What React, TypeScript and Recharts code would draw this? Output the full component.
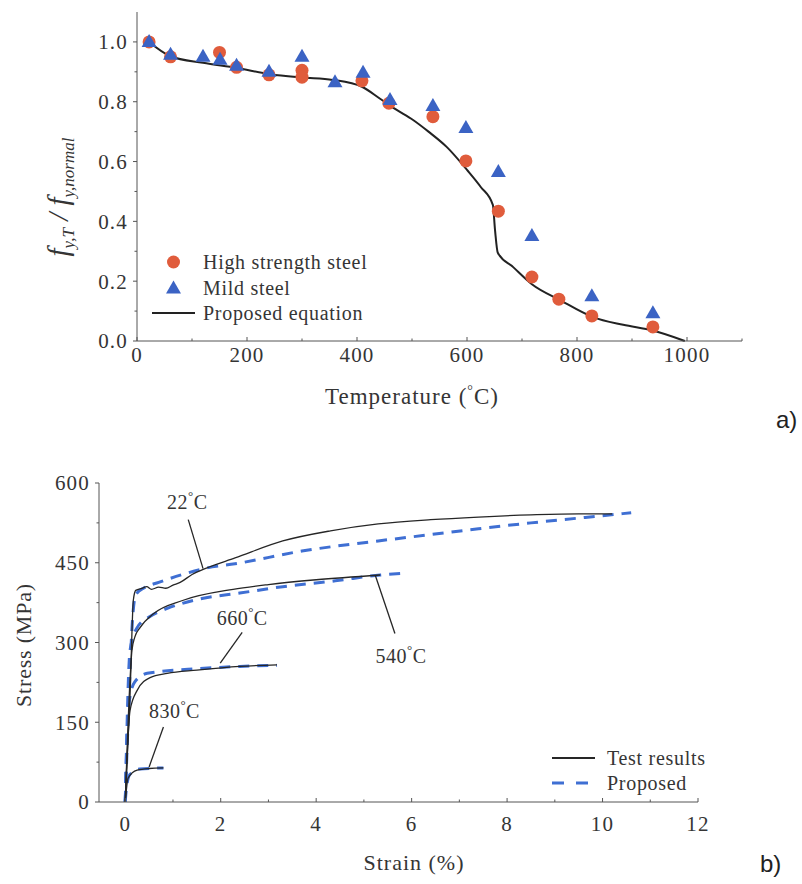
import React from "react";
import {
  ComposedChart,
  Line,
  Scatter,
  XAxis,
  YAxis,
  Legend,
  ReferenceLine,
  ReferenceDot,
} from "recharts";

const SERIF = '"Liberation Serif", "DejaVu Serif", serif';
const SANS = '"Liberation Sans", Arial, sans-serif';
const INK = "#353535";
const AXIS = "#555";
const ORANGE = "#e05c3c";
const BLUE = "#3b63c4";
const DASH_BLUE = "#3f6fd3";

// ---- panel a) : reduction factor vs temperature ----
const hsTemps = [22, 61, 150, 181, 240, 300, 300, 409, 458, 538, 598, 657, 718, 767, 827, 938];
const hsRatio = [1.0, 0.95, 0.965, 0.915, 0.89, 0.905, 0.882, 0.87, 0.795, 0.75, 0.602, 0.434, 0.214, 0.14, 0.084, 0.047];

const msTemps = [22, 61, 120, 151, 181, 240, 300, 360, 411, 460, 538, 598, 657, 718, 827, 938];
const msRatio = [1.0, 0.957, 0.95, 0.94, 0.92, 0.9, 0.95, 0.865, 0.897, 0.806, 0.786, 0.712, 0.565, 0.351, 0.15, 0.093];

const eqTemps = [22, 61, 120, 181, 242, 300, 356, 409, 442, 470, 502, 530, 563, 600, 625, 647, 651, 656, 684, 718, 769, 829, 884, 938, 996];
const eqRatio = [1.0, 0.952, 0.93, 0.913, 0.892, 0.881, 0.873, 0.85, 0.81, 0.775, 0.739, 0.7, 0.649, 0.572, 0.515, 0.455, 0.37, 0.295, 0.247, 0.19, 0.137, 0.08, 0.054, 0.035, 0.0];

const tempTicks = [0, 100, 200, 300, 400, 500, 600, 700, 800, 900, 1000, 1100];
const tempMajors = [0, 200, 400, 600, 800, 1000];
const ratioTicks = [0, 0.1, 0.2, 0.3, 0.4, 0.5, 0.6, 0.7, 0.8, 0.9, 1.0];
const ratioMajors = [0, 0.2, 0.4, 0.6, 0.8, 1.0];

// ---- panel b) : stress-strain curves, [strain %, stress MPa] ----
const test22 = [[0, 0], [0.1, 200], [0.17, 380], [0.22, 398], [0.35, 402], [0.45, 405], [0.55, 400], [0.7, 404], [0.85, 402], [1.0, 408], [1.15, 413], [1.4, 428], [1.7, 440], [2.3, 459], [3.3, 491], [4.3, 510], [5.3, 523], [6.4, 531], [7.4, 536], [8.5, 540], [9.5, 542], [10.2, 542]];
const prop22 = [[0, 0], [0.08, 200], [0.15, 340], [0.22, 390], [0.4, 403], [0.7, 413], [1.2, 428], [1.7, 440], [2.3, 448], [3.7, 472], [5.3, 491], [6.4, 503], [7.4, 514], [8.5, 525], [9.5, 534], [10.6, 544]];
const test540 = [[0, 0], [0.1, 230], [0.14, 285], [0.2, 310], [0.31, 328], [0.59, 354], [1.2, 379], [2.26, 400], [3.0, 409], [4.0, 418], [5.34, 427]];
const prop540 = [[0, 0], [0.1, 285], [0.25, 328], [0.5, 348], [0.88, 364], [1.57, 382], [2.4, 393], [3.3, 405], [4.4, 416], [5.34, 427], [5.8, 430]];
const test660 = [[0, 0], [0.1, 172], [0.25, 210], [0.52, 234], [0.88, 242], [1.5, 248], [2.4, 255], [3.18, 258]];
const prop660 = [[0, 0], [0.05, 150], [0.1, 198], [0.2, 226], [0.46, 242], [1.57, 251], [2.4, 255], [3.18, 257]];
const test830 = [[0, 0], [0.06, 45], [0.25, 60], [0.5, 63], [0.8, 64]];
const prop830 = [[0, 0], [0.03, 30], [0.1, 52], [0.3, 62], [0.8, 64]];

const strainTicks = [0, 1, 2, 3, 4, 5, 6, 7, 8, 9, 10, 11, 12];
const strainMajors = [0, 2, 4, 6, 8, 10, 12];
const stressTicks = [0, 75, 150, 225, 300, 375, 450, 525, 600];
const stressMajors = [0, 150, 300, 450, 600];

// curve labels: text anchor point and leader line, in [strain, stress]
const curveLabels = [
  { temp: "22", at: [1.3, 551], from: [1.32, 531], to: [1.63, 439] },
  { temp: "660", at: [2.45, 332], from: [2.45, 319], to: [1.99, 261] },
  { temp: "540", at: [5.78, 261], from: [5.24, 426], to: [5.65, 317] },
  { temp: "830", at: [1.03, 158], from: [0.8, 141], to: [0.5, 66] },
];

const zip = (xs: number[], ys: number[]) => xs.map((x, i) => ({ x, y: ys[i] }));
const pts = (arr: number[][]) => arr.map(([x, y]) => ({ x, y }));

const serifStyle = { fontFamily: SERIF };
const tickText = { fontSize: 21, letterSpacing: 1.2, fill: INK, style: serifStyle };

const xTick = (majors: number[], gap: number) => (p: any) => {
  const v = p.payload.value;
  const major = majors.includes(v);
  return (
    <g>
      <line x1={p.x} x2={p.x} y1={p.y} y2={p.y - (major ? 4 : 2.5)} stroke={AXIS} />
      {major && (
        <text x={p.x} y={p.y + gap} textAnchor="middle" {...tickText}>
          {v}
        </text>
      )}
    </g>
  );
};

const yTick = (majors: number[], fmt: (v: number) => string) => (p: any) => {
  const v = p.payload.value;
  const major = majors.includes(v);
  return (
    <g>
      <line x1={p.x} x2={p.x - (major ? 4 : 2.5)} y1={p.y} y2={p.y} stroke={AXIS} />
      {major && (
        <text x={p.x - 9} y={p.y} dy="0.35em" textAnchor="end" {...tickText}>
          {fmt(v)}
        </text>
      )}
    </g>
  );
};

const CircleMark = (p: any) => <circle cx={p.cx} cy={p.cy} r={6.5} fill={ORANGE} />;
const TriMark = (p: any) => (
  <polygon
    points={`${p.cx},${p.cy - 8} ${p.cx - 7.5},${p.cy + 5} ${p.cx + 7.5},${p.cy + 5}`}
    fill={BLUE}
  />
);

const legendText = { fontSize: 20, letterSpacing: 0.7, fill: INK, style: serifStyle };

function legendFor(order: string[], rowGap: number, mark: [number, number], textX: number) {
  return (props: any) => {
    const seen = new Set<string>();
    const items = [...(props.payload ?? [])]
      .filter((e: any) => {
        if (e.type === "none" || !order.includes(e.value) || seen.has(e.value)) return false;
        seen.add(e.value);
        return true;
      })
      .sort((a: any, b: any) => order.indexOf(a.value) - order.indexOf(b.value));
    return (
      <svg width={260} height={order.length * rowGap + 10} style={{ overflow: "visible" }}>
        {items.map((e: any, i: number) => {
          const cy = 14 + i * rowGap;
          const cx = (mark[0] + mark[1]) / 2;
          const dash = e.payload?.strokeDasharray;
          let m;
          if (e.type === "circle") m = <CircleMark cx={cx} cy={cy} />;
          else if (e.type === "triangle") m = <TriMark cx={cx} cy={cy + 1} />;
          else
            m = (
              <line
                x1={mark[0]} x2={mark[1]} y1={cy} y2={cy}
                stroke={e.color}
                strokeWidth={dash ? 3 : 1.8}
                strokeDasharray={dash ? "12 12" : undefined}
              />
            );
          return (
            <g key={e.value}>
              {m}
              <text x={textX} y={cy} dy="0.35em" {...legendText}>
                {e.value}
              </text>
            </g>
          );
        })}
      </svg>
    );
  };
}

const CurveLabel = (temp: string) => (p: any) => (
  <text x={p.cx} y={p.cy} textAnchor="middle" fontSize={20} fill={INK} letterSpacing={0.5} style={serifStyle}>
    {temp}
    <tspan dy={-9} fontSize={13}>°</tspan>
    <tspan dy={9}>C</tspan>
  </text>
);

function PanelA() {
  return (
    <ComposedChart width={802} height={420} margin={{ top: 12, right: 60, left: 77, bottom: 39 }}>
      <XAxis
        type="number" dataKey="x" domain={[0, 1100]} ticks={tempTicks} interval={0}
        tickSize={0} tickMargin={0} tickLine={false} stroke={AXIS}
        tick={xTick(tempMajors, 21)} height={40}
      />
      <YAxis
        type="number" dataKey="y" domain={[0, 1.1]} ticks={ratioTicks} interval={0}
        tickSize={0} tickMargin={0} tickLine={false} stroke={AXIS} width={60}
        tick={yTick(ratioMajors, (v) => v.toFixed(1))}
      />
      <Line
        data={zip(eqTemps, eqRatio)} dataKey="y" name="Proposed equation" type="monotone"
        stroke="#222" strokeWidth={2} dot={false} activeDot={false} legendType="line"
        isAnimationActive={false}
      />
      <Scatter
        data={zip(hsTemps, hsRatio)} name="High strength steel" fill={ORANGE}
        shape={CircleMark} legendType="circle" isAnimationActive={false}
      />
      <Scatter
        data={zip(msTemps, msRatio)} name="Mild steel" fill={BLUE}
        shape={TriMark} legendType="triangle" isAnimationActive={false}
      />
      <Legend
        layout="vertical" align="center" verticalAlign="middle"
        wrapperStyle={{ left: 148, top: 248, width: 260 }}
        content={legendFor(["High strength steel", "Mild steel", "Proposed equation"], 25.5, [4, 47], 55)}
      />
    </ComposedChart>
  );
}

function PanelB() {
  const testLine = (d: number[][], key: string, show: boolean) => (
    <Line
      key={key} data={pts(d)} dataKey="y" name="Test results" type="monotone"
      stroke="#262626" strokeWidth={1.3} dot={false} activeDot={false}
      legendType={show ? "line" : "none"} isAnimationActive={false}
    />
  );
  const propLine = (d: number[][], key: string, show: boolean) => (
    <Line
      key={key} data={pts(d)} dataKey="y" name="Proposed" type="monotone"
      stroke={DASH_BLUE} strokeWidth={3} strokeDasharray="11 8" dot={false} activeDot={false}
      legendType={show ? "line" : "none"} isAnimationActive={false}
    />
  );
  return (
    <ComposedChart width={802} height={444} margin={{ top: 43, right: 104, left: 39, bottom: 42 }}>
      <XAxis
        type="number" dataKey="x" domain={[-0.55, 12]} allowDataOverflow ticks={strainTicks} interval={0}
        tickSize={0} tickMargin={0} tickLine={false} stroke={AXIS}
        tick={xTick(strainMajors, 29)} height={40}
      />
      <YAxis
        type="number" dataKey="y" domain={[0, 600]} ticks={stressTicks} interval={0}
        tickSize={0} tickMargin={0} tickLine={false} stroke={AXIS} width={60}
        tick={yTick(stressMajors, (v) => String(v))}
      />
      {propLine(prop22, "p22", true)}
      {propLine(prop540, "p540", false)}
      {propLine(prop660, "p660", false)}
      {propLine(prop830, "p830", false)}
      {testLine(test22, "t22", true)}
      {testLine(test540, "t540", false)}
      {testLine(test660, "t660", false)}
      {testLine(test830, "t830", false)}
      {curveLabels.map((c) => (
        <ReferenceLine
          key={"l" + c.temp}
          segment={[{ x: c.from[0], y: c.from[1] }, { x: c.to[0], y: c.to[1] }]}
          stroke="#262626" strokeWidth={1.3}
        />
      ))}
      {curveLabels.map((c) => (
        <ReferenceDot key={"d" + c.temp} x={c.at[0]} y={c.at[1]} r={0} shape={CurveLabel(c.temp)} />
      ))}
      <Legend
        layout="vertical" align="center" verticalAlign="middle"
        wrapperStyle={{ left: 545, top: 304, width: 260 }}
        content={legendFor(["Test results", "Proposed"], 25, [7, 50], 62)}
      />
    </ComposedChart>
  );
}

export default function App() {
  return (
    <div style={{ position: "absolute", left: 0, top: 0, width: 802, height: 884, background: "#fff" }}>
      <div style={{ position: "absolute", left: 0, top: 0 }}>
        <PanelA />
      </div>
      <div style={{ position: "absolute", left: 0, top: 440 }}>
        <PanelB />
      </div>
      <svg
        width={802} height={884}
        style={{ position: "absolute", left: 0, top: 0, pointerEvents: "none" }}
      >
        <text
          transform="translate(68,197) rotate(-90)" textAnchor="middle"
          fontStyle="italic" fill={INK} style={serifStyle}
        >
          <tspan fontSize={29}>f</tspan>
          <tspan fontSize={17} dy={6}>y,T</tspan>
          <tspan fontSize={29} dy={-6}> / f</tspan>
          <tspan fontSize={17} dy={6}>y,normal</tspan>
        </text>
        <text x={412} y={404} textAnchor="middle" fontSize={23} letterSpacing={1} fill={INK} style={serifStyle}>
          Temperature (<tspan dy={-9} fontSize={14}>°</tspan>
          <tspan dy={9}>C)</tspan>
        </text>
        <text
          transform="translate(31,645) rotate(-90)" textAnchor="middle"
          fontSize={22} letterSpacing={0.8} fill={INK} style={serifStyle}
        >
          Stress (MPa)
        </text>
        <text x={414} y={870} textAnchor="middle" fontSize={22} letterSpacing={1} fill={INK} style={serifStyle}>
          Strain (%)
        </text>
        <text x={776} y={428} fontSize={24} fill="#222" style={{ fontFamily: SANS }}>a)</text>
        <text x={760} y={872} fontSize={24} fill="#222" style={{ fontFamily: SANS }}>b)</text>
      </svg>
    </div>
  );
}
